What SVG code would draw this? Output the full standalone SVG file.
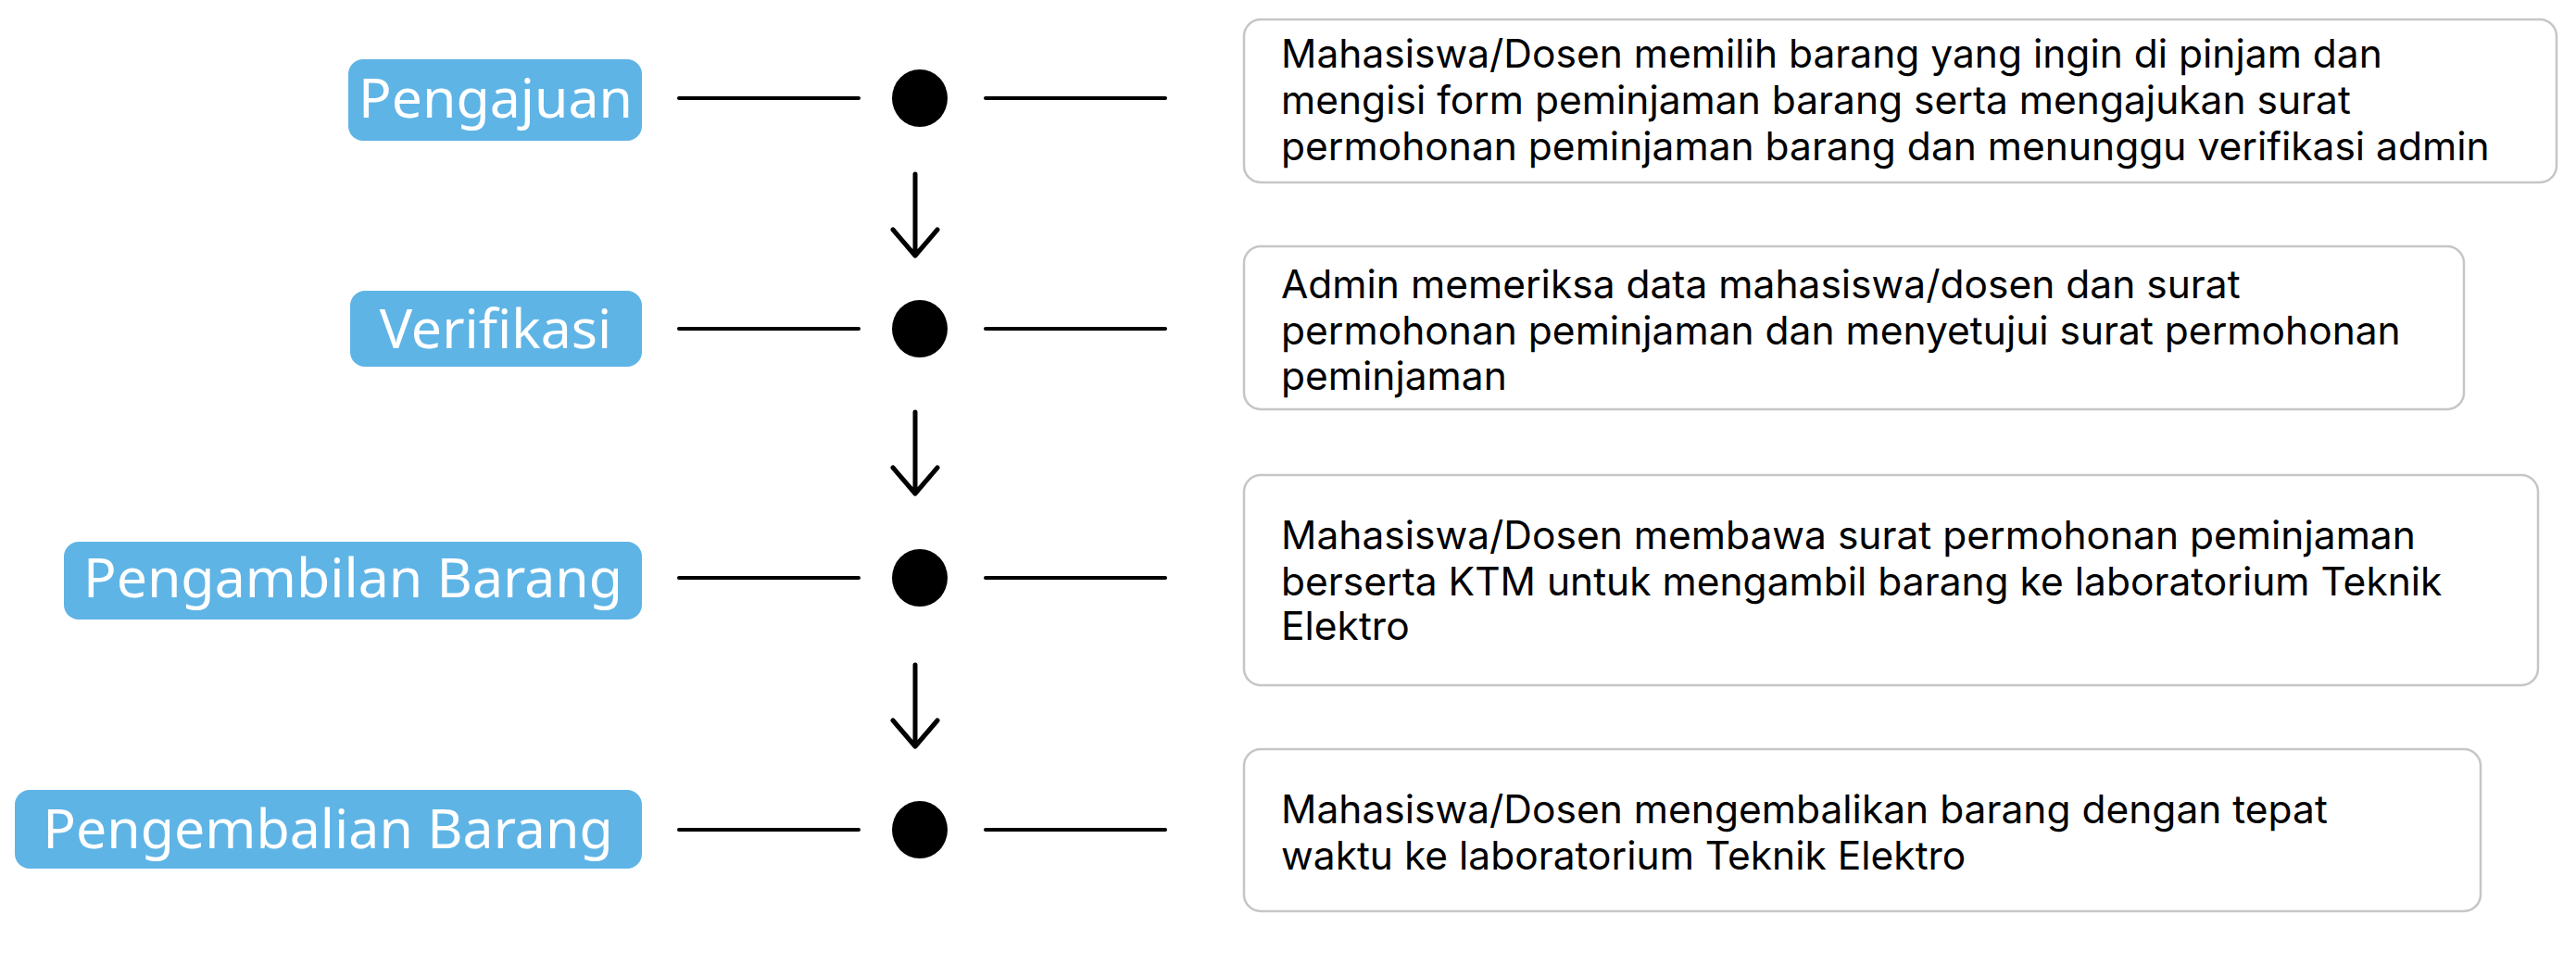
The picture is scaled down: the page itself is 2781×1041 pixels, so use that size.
<svg xmlns="http://www.w3.org/2000/svg" width="2781" height="1041" viewBox="0 0 2781 1041">
<style>
.lbl{fill:#5fb4e6}
.lt{font-family:"Noto Sans","Open Sans",sans-serif;font-size:59px;fill:#ffffff;text-anchor:middle}
.desc{fill:#ffffff;stroke:#c6c6c6;stroke-width:2.5}
.dt{font-family:Inter,"Noto Sans",sans-serif;font-size:42.5px;fill:#000000}
.ln{stroke:#000;stroke-width:4;stroke-linecap:round;fill:none}
.ar{stroke:#000;stroke-width:5;stroke-linecap:round;stroke-linejoin:round;fill:none}
</style>
<rect width="2781" height="1041" fill="#ffffff"/>
<g id="connectors">
<line class="ln" x1="733" y1="106" x2="927" y2="106"/>
<line class="ln" x1="1064" y1="106" x2="1258" y2="106"/>
<line class="ln" x1="733" y1="355" x2="927" y2="355"/>
<line class="ln" x1="1064" y1="355" x2="1258" y2="355"/>
<line class="ln" x1="733" y1="624" x2="927" y2="624"/>
<line class="ln" x1="1064" y1="624" x2="1258" y2="624"/>
<line class="ln" x1="733" y1="896" x2="927" y2="896"/>
<line class="ln" x1="1064" y1="896" x2="1258" y2="896"/>
<path class="ar" d="M988 188 V276 M964 248 L988 276 L1012 248"/>
<path class="ar" d="M988 445 V533 M964 505 L988 533 L1012 505"/>
<path class="ar" d="M988 718 V806 M964 778 L988 806 L1012 778"/>
</g>
<g id="dot1"><ellipse cx="993" cy="106" rx="30" ry="31"/></g>
<g id="dot2"><ellipse cx="993" cy="355" rx="30" ry="31"/></g>
<g id="dot3"><ellipse cx="993" cy="624" rx="30" ry="31"/></g>
<g id="dot4"><ellipse cx="993" cy="896" rx="30" ry="31"/></g>
<g id="pengajuan">
<rect class="lbl" x="376" y="64" width="317" height="88" rx="16"/>
<text class="lt" x="535" y="127">Pengajuan</text>
</g>
<g id="verifikasi">
<rect class="lbl" x="378" y="314" width="315" height="82" rx="16"/>
<text class="lt" x="535" y="376">Verifikasi</text>
</g>
<g id="pengambilan">
<rect class="lbl" x="69" y="585" width="624" height="84" rx="16"/>
<text class="lt" x="381" y="645">Pengambilan Barang</text>
</g>
<g id="pengembalian">
<rect class="lbl" x="16" y="853" width="677" height="85" rx="16"/>
<text class="lt" x="354" y="916">Pengembalian Barang</text>
</g>
<g id="desc1">
<rect class="desc" x="1343" y="21" width="1417" height="176" rx="18"/>
<text class="dt" x="1383" y="73">Mahasiswa/Dosen memilih barang yang ingin di pinjam dan</text>
<text class="dt" x="1383" y="123">mengisi form peminjaman barang serta mengajukan surat</text>
<text class="dt" x="1383" y="173">permohonan peminjaman barang dan menunggu verifikasi admin</text>
</g>
<g id="desc2">
<rect class="desc" x="1343" y="266" width="1317" height="176" rx="18"/>
<text class="dt" x="1383" y="322">Admin memeriksa data mahasiswa/dosen dan surat</text>
<text class="dt" x="1383" y="372">permohonan peminjaman dan menyetujui surat permohonan</text>
<text class="dt" x="1383" y="421">peminjaman</text>
</g>
<g id="desc3">
<rect class="desc" x="1343" y="513" width="1397" height="227" rx="18"/>
<text class="dt" x="1383" y="593">Mahasiswa/Dosen membawa surat permohonan peminjaman</text>
<text class="dt" x="1383" y="643">berserta KTM untuk mengambil barang ke laboratorium Teknik</text>
<text class="dt" x="1383" y="691">Elektro</text>
</g>
<g id="desc4">
<rect class="desc" x="1343" y="809" width="1335" height="175" rx="18"/>
<text class="dt" x="1383" y="889">Mahasiswa/Dosen mengembalikan barang dengan tepat</text>
<text class="dt" x="1383" y="939">waktu ke laboratorium Teknik Elektro</text>
</g>
</svg>
